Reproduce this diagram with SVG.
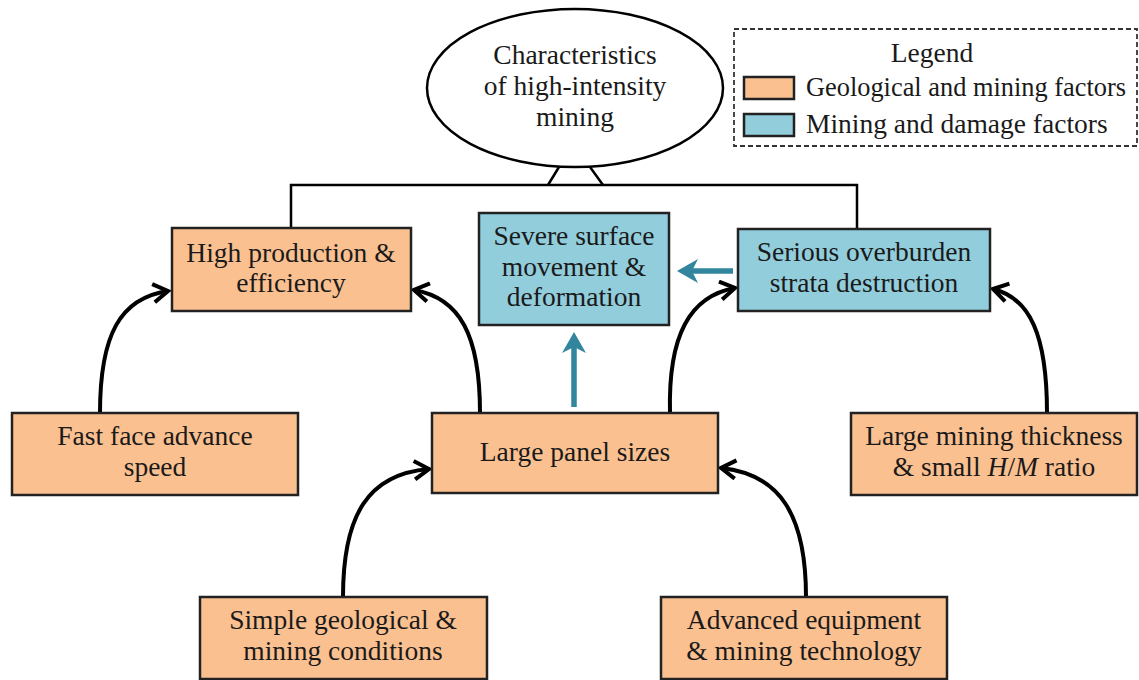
<svg xmlns="http://www.w3.org/2000/svg" width="1139" height="680" viewBox="0 0 1139 680">
<style>
text{font-family:"Liberation Serif","Times New Roman",serif;font-size:27.5px;fill:#1a1a1a;text-anchor:middle}
.geo{fill:#FAC090;stroke:#222;stroke-width:2.5}
.dmg{fill:#92CDDC;stroke:#222;stroke-width:2.5}
.arc{fill:none;stroke:#000;stroke-width:4;marker-end:url(#open)}
.teal{fill:none;stroke:#31859C;stroke-width:5.5}
.line{fill:none;stroke:#000;stroke-width:2.5}
</style>
<defs>
<marker id="open" viewBox="0 0 12 12" refX="10" refY="6" markerWidth="5.5" markerHeight="5.5" orient="auto" markerUnits="strokeWidth">
<path d="M2,1 L10,6 L2,11" fill="none" stroke="#000" stroke-width="2.2"/>
</marker>
</defs>
<rect width="1139" height="680" fill="#fff"/>
<g id="connectors">
<path class="line" d="M291,229 V185 H857 V229"/>
<path class="line" d="M548,185 L559,167 M603,185 L590,167"/>
<path class="arc" d="M100,413 C100,335 120,298 168,291"/>
<path class="arc" d="M480,413 C480,335 460,298 414,290"/>
<path class="arc" d="M670,413 C668,335 690,296 735,288"/>
<path class="arc" d="M1047,413 C1047,335 1030,298 993,289"/>
<path class="arc" d="M343,597 C343,515 368,474 429,469"/>
<path class="arc" d="M806,597 C806,515 780,474 721,468"/>
<path class="teal" d="M733,271 H690"/>
<path d="M677,271 L698,259 L692,271 L698,283 Z" fill="#31859C"/>
<path class="teal" d="M574,407 V345"/>
<path d="M574,332 L562,353 L574,347 L586,353 Z" fill="#31859C"/>
</g>
<g id="top">
<ellipse cx="575" cy="88" rx="148" ry="79" fill="#fff" stroke="#000" stroke-width="2.5"/>
<text x="575" y="64">Characteristics</text>
<text x="575" y="95">of high-intensity</text>
<text x="575" y="126">mining</text>
</g>
<g id="legend">
<rect x="734" y="29" width="403" height="117" fill="#fff" stroke="#333" stroke-width="1.8" stroke-dasharray="5,3"/>
<text x="932" y="62">Legend</text>
<rect x="744" y="77" width="50" height="22" class="geo"/>
<text x="806" y="96" style="text-anchor:start" textLength="320" lengthAdjust="spacingAndGlyphs">Geological and mining factors</text>
<rect x="744" y="114" width="50" height="22" class="dmg"/>
<text x="806" y="133" style="text-anchor:start">Mining and damage factors</text>
</g>
<g id="high-production">
<rect x="172" y="228" width="239" height="83" class="geo"/>
<text x="291" y="262">High production &amp;</text>
<text x="291" y="292">efficiency</text>
</g>
<g id="severe-surface">
<rect x="479" y="213" width="190" height="112" class="dmg"/>
<text x="574" y="245">Severe surface</text>
<text x="574" y="276">movement &amp;</text>
<text x="574" y="306">deformation</text>
</g>
<g id="serious-overburden">
<rect x="738" y="229" width="252" height="82" class="dmg"/>
<text x="864" y="261">Serious overburden</text>
<text x="864" y="292">strata destruction</text>
</g>
<g id="fast-face">
<rect x="12" y="413" width="286" height="82" class="geo"/>
<text x="155" y="445">Fast face advance</text>
<text x="155" y="476">speed</text>
</g>
<g id="large-panel">
<rect x="432" y="413" width="286" height="80" class="geo"/>
<text x="575" y="461">Large panel sizes</text>
</g>
<g id="large-mining">
<rect x="851" y="413" width="286" height="82" class="geo"/>
<text x="994" y="445">Large mining thickness</text>
<text x="994" y="476">&amp; small <tspan font-style="italic">H</tspan>/<tspan font-style="italic">M</tspan> ratio</text>
</g>
<g id="simple-geological">
<rect x="200" y="597" width="287" height="82" class="geo"/>
<text x="343" y="629">Simple geological &amp;</text>
<text x="343" y="660">mining conditions</text>
</g>
<g id="advanced-equipment">
<rect x="661" y="597" width="286" height="82" class="geo"/>
<text x="804" y="629">Advanced equipment</text>
<text x="804" y="660">&amp; mining technology</text>
</g>
</svg>
